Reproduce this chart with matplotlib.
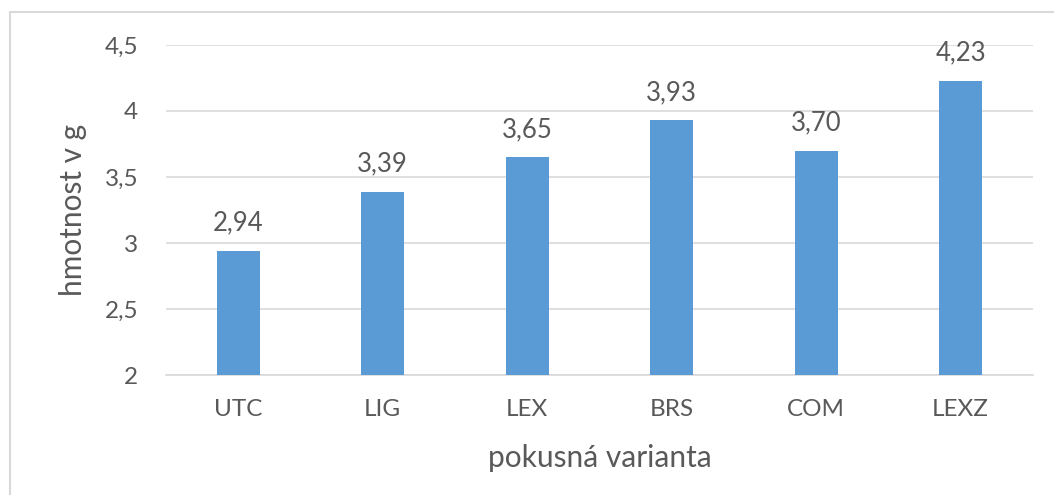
import matplotlib
matplotlib.use('Agg')
import matplotlib.pyplot as plt
import matplotlib.patches as mpatches

plt.rcParams['font.family'] = ['Lato', 'DejaVu Sans']
plt.rcParams['font.size'] = 17

# Data
categories = ['UTC', 'LIG', 'LEX', 'BRS', 'COM', 'LEXZ']
values = [2.94, 3.39, 3.65, 3.93, 3.70, 4.23]
y_ticks = [2, 2.5, 3, 3.5, 4, 4.5]
y_tick_labels = ['2', '2,5', '3', '3,5', '4', '4,5']

BAR_COLOR = '#5B9BD5'
TEXT_COLOR = '#595959'
GRID_COLOR = '#D9D9D9'

fig = plt.figure(figsize=(10.54, 4.95), dpi=100)
ax = fig.add_axes([0.1575, 0.2424, 0.8225, 0.6667])

x = range(len(categories))
bars = ax.bar(x, values, width=0.30, color=BAR_COLOR, zorder=3)

# Popisky hodnot
ax.bar_label(bars, labels=[f'{v:.2f}'.replace('.', ',') for v in values],
             padding=11, color=TEXT_COLOR, fontsize=18.5)

ax.set_xlim(-0.5, len(categories) - 0.5)
ax.set_ylim(2, 4.5)
ax.set_yticks(y_ticks)
ax.set_yticklabels(y_tick_labels)
ax.set_xticks(list(x))
ax.set_xticklabels(categories)

ax.tick_params(axis='both', length=0, colors=TEXT_COLOR, labelsize=17.5)
ax.tick_params(axis='y', pad=20)
ax.tick_params(axis='x', pad=17)

ax.grid(axis='y', color=GRID_COLOR, linewidth=1.2, zorder=0)
ax.set_axisbelow(True)
for side in ['top', 'right', 'left']:
    ax.spines[side].set_visible(False)
ax.spines['bottom'].set_color(GRID_COLOR)
ax.spines['bottom'].set_linewidth(1.2)

ax.set_xlabel('pokusná varianta', color=TEXT_COLOR, fontsize=21.5)
ax.set_ylabel('hmotnost v g', color=TEXT_COLOR, fontsize=21.5)
ax.xaxis.label.set_va('center')
ax.yaxis.label.set_va('center')
ax.xaxis.set_label_coords(0.5, (375 - 458) / 330)
ax.yaxis.set_label_coords((73 - 166) / 867, 0.5)

# Rámeček grafu
frame = mpatches.Rectangle((10 / 1054, -0.05), 1.1, 1 - 12 / 495 + 0.05,
                           transform=fig.transFigure, fill=False,
                           edgecolor=GRID_COLOR, linewidth=1.5)
fig.patches.append(frame)

fig.savefig('out.png', dpi=100, facecolor='white')
plt.close(fig)
